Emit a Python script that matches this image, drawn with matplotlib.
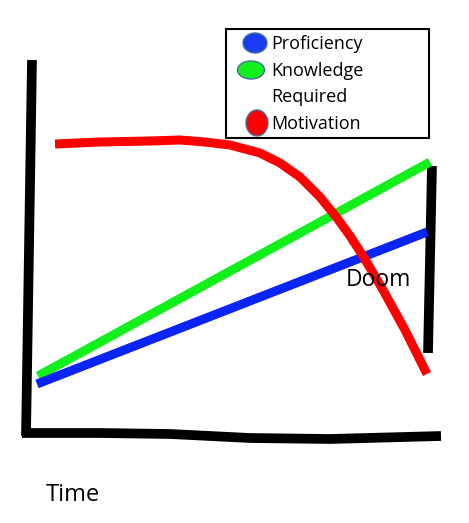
import matplotlib.pyplot as plt
from matplotlib.patches import Ellipse, Rectangle

# hand-drawn sketch, coordinates read in picture pixels (y grows downward)
axis_left_x = [32, 26]
axis_left_y = [60, 436]
axis_bottom_x = [22, 100, 170, 210, 250, 330, 441]
axis_bottom_y = [433, 433, 434, 436, 438, 439, 436]
doom_bar_x = [432, 428]
doom_bar_y = [166, 353]

motivation_x = [55, 100, 150, 180, 205, 230, 260, 280, 300, 320, 337, 350, 363, 383, 405, 427]
motivation_y = [144, 142, 141, 140, 142, 145, 153, 163, 177, 197, 218, 236, 256, 290, 330, 374]
knowledge_x = [38, 430]
knowledge_y = [376, 162]
proficiency_x = [37, 427]
proficiency_y = [384, 232]

labels = ['Proficiency', 'Knowledge', 'Required', 'Motivation']

fig = plt.figure(figsize=(4.69, 5.23), dpi=100)
ax = fig.add_axes([0, 0, 1, 1])
ax.set_xlim(0, 469)
ax.set_ylim(523, 0)
ax.axis('off')

lw = 6.5
style = dict(solid_capstyle='butt', solid_joinstyle='round')
ax.plot(axis_left_x, axis_left_y, color='black', lw=7, **style)
ax.plot(axis_bottom_x, axis_bottom_y, color='black', lw=7, **style)
ax.plot(doom_bar_x, doom_bar_y, color='black', lw=7, **style)

ax.plot(knowledge_x, knowledge_y, color='#11f01a', lw=lw, **style)
ax.plot(proficiency_x, proficiency_y, color='#0a24f5', lw=lw, **style)
ax.plot(motivation_x, motivation_y, color='#ff0000', lw=lw, **style)

font = 'Open Sans'
ax.text(346, 286, 'Doom', fontsize=16.5, family=font, va='baseline', ha='left')
ax.text(46, 501, 'Time', fontsize=17, family=font, va='baseline', ha='left')

# legend box drawn by hand
ax.add_patch(Rectangle((226, 29), 203, 109, fill=False, edgecolor='black', lw=1.5))
ax.add_patch(Ellipse((255, 43), 24, 20, facecolor='#1a3cf0', edgecolor='#41719c', lw=1))
ax.add_patch(Ellipse((251, 70), 27, 18, facecolor='#11f01a', edgecolor='#41719c', lw=1))
ax.add_patch(Ellipse((257, 123), 22, 26, facecolor='#ff0000', edgecolor='#41719c', lw=1))
for i, lab in enumerate(labels):
    ax.text(271, 49 + i * 26.7, lab, fontsize=13, family=font, va='baseline', ha='left')

fig.savefig('out.png', dpi=100)
